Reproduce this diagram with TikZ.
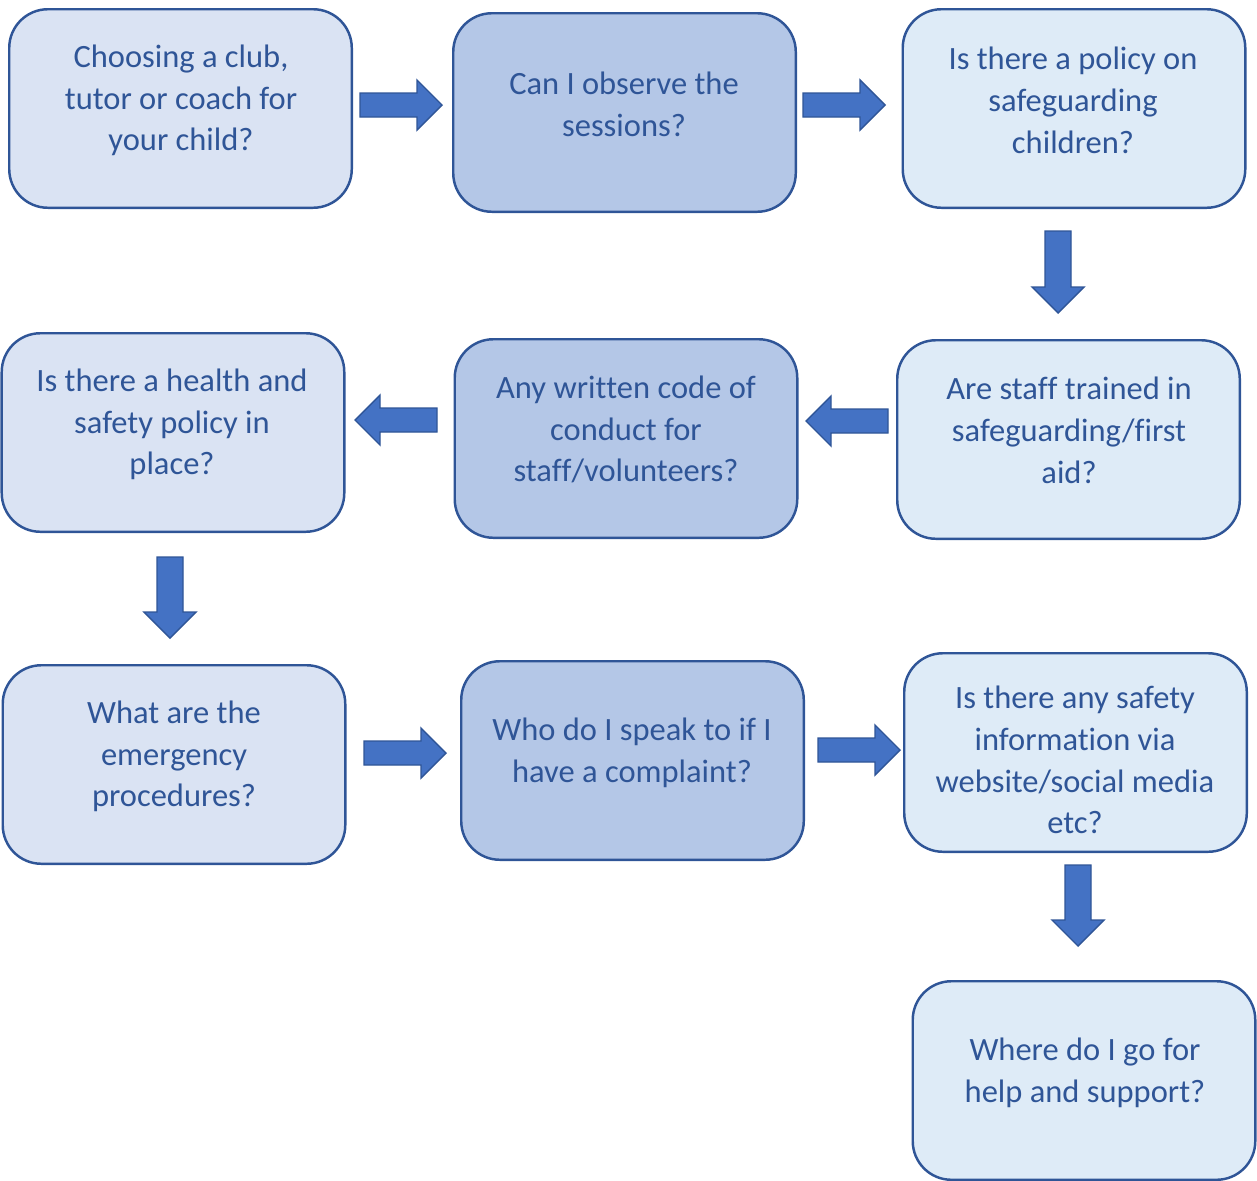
\documentclass[tikz,border=0pt]{standalone}
\usepackage{fontspec}
\setmainfont{Carlito}[RawFeature={-liga;-clig;-dlig}]
\newcommand{\nolig}{\kern0pt}
\definecolor{edgeblue}{HTML}{2F5597}
\definecolor{txtblue}{HTML}{2F5597}
\definecolor{fillA}{HTML}{DAE3F3}
\definecolor{fillB}{HTML}{B4C7E7}
\definecolor{fillC}{HTML}{DEEBF7}
\definecolor{arrowfill}{HTML}{4472C4}
\begin{document}
\begin{tikzpicture}[x=0.02cm,y=-0.02cm,
  qbox/.style={draw=edgeblue,line width=1.4pt,rounded corners=22pt,
    minimum width=345*0.02cm-1.4pt,minimum height=201*0.02cm-1.4pt,inner sep=0pt},
  light/.style={qbox,fill=fillA},
  mid/.style={qbox,fill=fillB},
  pale/.style={qbox,fill=fillC},
  qtext/.style={align=center,text=txtblue,inner sep=0pt,
    font=\fontsize{18.5}{23.8}\selectfont},
  barrow/.style={draw=edgeblue,fill=arrowfill,line width=0.8pt,line join=miter}]
\useasboundingbox (0,0) rectangle (1257,1180);
% boxes
\node[light] (b1) at (180.5,108.5) {};
\node[mid]   (b2) at (624.5,112.5) {};
\node[pale]  (b3) at (1074,108.5) {};
\node[light] (b4) at (173,432.5) {};
\node[mid]   (b5) at (626,438.5) {};
\node[pale]  (b6) at (1068.5,439.5) {};
\node[light] (b7) at (174,764.5) {};
\node[mid]   (b8) at (632.5,760.5) {};
\node[pale]  (b9) at (1075.5,752.5) {};
\node[pale]  (b10) at (1084,1080.5) {};
% texts
\node[qtext] (t1) at (181,100.5) {Choosing a club,\\tutor or coach for\\your child?};
\node[qtext] (t2) at (624,104.5) {Can I observe the\\sessions?};
\node[qtext] (t3) at (1073,100.5) {Is there a policy on\\safeguarding\\children?};
\node[qtext] (t4) at (172,424.5) {Is there a health and\\safety policy in\\place?};
\node[qtext] (t5) at (626,429.5) {Any writ\nolig ten code of\\conduct for\\staf\nolig f/volunteers?};
\node[qtext] (t6) at (1069,430.5) {Are staf\nolig f trained in\\safeguarding/f\nolig irst\\aid?};
\node[qtext] (t7) at (174,756.5) {What are the\\emergency\\procedures?};
\node[qtext] (t8) at (632,752.5) {Who do I speak to if I\\have a complaint?};
\node[qtext] (t9) at (1075,760) {Is there any safety\\information via\\website/social media\\etc?};
\node[qtext] (t10) at (1085,1072.5) {Where do I go for\\help and support?};
% block arrows: right
\foreach \xa/\xb/\cy in {360/442/105, 803/885/105, 364/446/753, 818/900/750}{
  \draw[barrow] (\xa,\cy-12) -- (\xb-25,\cy-12) -- (\xb-25,\cy-25) -- (\xb,\cy)
    -- (\xb-25,\cy+25) -- (\xb-25,\cy+12) -- (\xa,\cy+12) -- cycle;}
% left
\foreach \xa/\xb/\cy in {888/806/421, 437/355/420}{
  \draw[barrow] (\xa,\cy-12) -- (\xb+25,\cy-12) -- (\xb+25,\cy-25) -- (\xb,\cy)
    -- (\xb+25,\cy+25) -- (\xb+25,\cy+12) -- (\xa,\cy+12) -- cycle;}
% down
\foreach \cx/\ya/\yb in {1058/231/313, 170/557/638, 1078/865/946}{
  \draw[barrow] (\cx-13,\ya) -- (\cx-13,\yb-26) -- (\cx-26,\yb-26) -- (\cx,\yb)
    -- (\cx+26,\yb-26) -- (\cx+13,\yb-26) -- (\cx+13,\ya) -- cycle;}
\end{tikzpicture}
\end{document}
